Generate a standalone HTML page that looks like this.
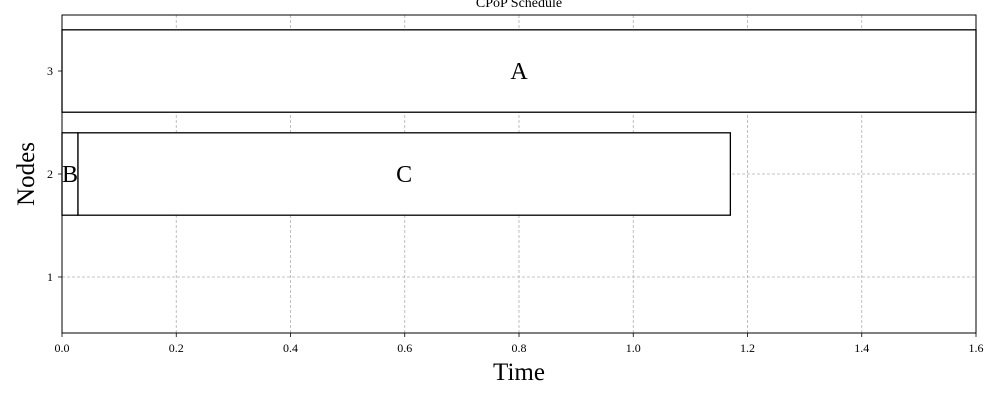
<!DOCTYPE html>
<html><head><meta charset="utf-8"><style>
body{margin:0;background:#fff;}
svg text{font-family:"Liberation Serif",serif;fill:#000;}
</style></head><body>
<svg id="chart" width="1000" height="400" xmlns="http://www.w3.org/2000/svg"></svg>
<script>
const taskNames = ["A", "B", "C"];
const taskNodes = [3, 2, 2];
const taskStarts = [0.0, 0.0, 0.028];
const taskEnds = [1.6, 0.028, 1.17];
const xTicks = [0, 0.2, 0.4, 0.6, 0.8, 1.0, 1.2, 1.4, 1.6];
const xTickLabels = ["0.0","0.2","0.4","0.6","0.8","1.0","1.2","1.4","1.6"];
const yTicks = [1, 2, 3];

const L=62,R=976,T=15,B=333, xMin=0,xMax=1.6, yMin=0.456,yMax=3.544;
const xs=v=>L+(v-xMin)/(xMax-xMin)*(R-L);
const ys=v=>B-(v-yMin)/(yMax-yMin)*(B-T);
const svg=document.getElementById('chart');
const NS="http://www.w3.org/2000/svg";
function mk(tag,attrs,parent){const e=document.createElementNS(NS,tag);for(const k in attrs)e.setAttribute(k,attrs[k]);(parent||svg).appendChild(e);return e;}

// grid
xTicks.forEach((t,i)=>{
  const g=mk('line',{x1:xs(t),x2:xs(t),y1:T,y2:B,stroke:'#b0b0b0','stroke-width':0.8,'stroke-dasharray':'3,2'});
  
  
  const tk=mk('line',{x1:xs(t),x2:xs(t),y1:B,y2:B+4,stroke:'#000','stroke-width':0.8});
  
  
  const lb=mk('text',{x:xs(t),y:B+19,'text-anchor':'middle','font-size':12});
  lb.textContent=xTickLabels[i];
  
  
});
yTicks.forEach(t=>{
  const g=mk('line',{x1:L,x2:R,y1:ys(t),y2:ys(t),stroke:'#b0b0b0','stroke-width':0.8,'stroke-dasharray':'3,2'});
  
  
  const tk=mk('line',{x1:L-4,x2:L,y1:ys(t),y2:ys(t),stroke:'#000','stroke-width':0.8});
  
  
  const lb=mk('text',{x:L-9,y:ys(t)+4,'text-anchor':'end','font-size':12});
  lb.textContent=String(t);
  
  
});

// tasks
taskNames.forEach((n,i)=>{
  const x0=xs(taskStarts[i]),x1=xs(taskEnds[i]),y0=ys(taskNodes[i]+0.4),y1=ys(taskNodes[i]-0.4);
  const r=mk('rect',{x:x0,y:y0,width:x1-x0,height:y1-y0,fill:'#fff',stroke:'#000','stroke-width':1.3});
  
  
  const t=mk('text',{x:(x0+x1)/2,y:(y0+y1)/2+8,'text-anchor':'middle','font-size':24});
  t.textContent=n;
  
  
});

// frame
const f=mk('rect',{x:L,y:T,width:R-L,height:B-T,fill:'none',stroke:'#000','stroke-width':1});



const title=mk('text',{x:(L+R)/2,y:7,'text-anchor':'middle','font-size':14});
title.textContent='CPoP Schedule';


const xt=mk('text',{x:(L+R)/2,y:380,'text-anchor':'middle','font-size':25});
xt.textContent='Time';


const yt=mk('text',{x:0,y:0,'text-anchor':'middle','font-size':25,transform:`translate(34,${(T+B)/2}) rotate(-90)`});
yt.textContent='Nodes';


</script>
</body></html>
